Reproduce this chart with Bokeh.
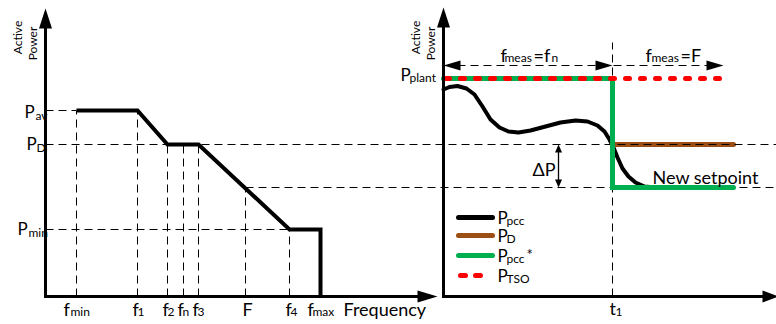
import numpy as np
from bokeh.plotting import figure
from bokeh.models import Range1d
from bokeh.core.properties import value
from bokeh.embed import file_html
from bokeh.resources import INLINE

FONT = "Lato"
BLACK = "#000000"
BROWN = "#9C4F14"
GREEN = "#00B050"
RED = "#FF0000"
DASH = "8 5"

# ---- power levels shared by both panels (height above the time/frequency axis) ----
P_TOP = 288      # tip of the vertical axes
P_PLANT = 218
P_AV = 186
P_D = 152
P_SET = 109      # power reached at f = F (the new setpoint)
P_MIN = 67

# ---- left panel: frequency / active power characteristic ----
F_ORIGIN = 45
F_AXIS_END = 437
freq_main = ["f", "f", "f", "f", "f", "F", "f", "f"]
freq_sub = ["min", "1", "2", "n", "3", "", "4", "max"]
freq_pos = [76, 137, 167, 183, 198, 245, 289, 320]
freq_guide_top = [P_AV, P_AV, P_D, P_D, P_D, P_SET, P_MIN, 0]
f = dict(zip(["fmin", "f1", "f2", "fn", "f3", "F", "f4", "fmax"], freq_pos))

droop_f = [f["fmin"], f["f1"], f["f2"], f["f3"], f["f4"], f["fmax"], f["fmax"]]
droop_p = [P_AV, P_AV, P_D, P_D, P_MIN, P_MIN, 0]

# ---- right panel: active power against time ----
T_ORIGIN = 443
T_AXIS_END = 778
T1 = 169
T_END = 290
T_TSO_END = 285
T_MEAS_END = 280
pcc_t = [0, 6, 14, 23, 31, 39, 47, 56, 65, 75, 87, 102, 117, 132, 144, 154,
         161, 166, 170, 174, 179, 185, 192, 201, 212, 272]
pcc_p = [207, 209.5, 210.5, 208, 202, 190, 177, 169, 165, 164, 166, 170, 174,
         176, 175, 171, 165, 157, 149, 139, 128, 120, 114, 110, 109, 109]

X_MAX = 776
Y_MIN = -28
TXT_DY = 6       # lifts glyph text so its baseline sits where it is placed

p = figure(width=776, height=324, x_range=Range1d(0, X_MAX), y_range=Range1d(Y_MIN, 296),
           output_backend="svg", toolbar_location=None, min_border=0,
           x_axis_location=None, y_axis_location=None)
p.grid.visible = False
p.outline_line_color = None
p.background_fill_color = "white"
p.border_fill_color = "white"


def txt(x, y, s, size, align="left", baseline="alphabetic", angle=0.0, dy=TXT_DY):
    p.text(x=[x], y=[y + dy], text=[s], text_font=value(FONT), text_font_size=f"{size}px",
           text_align=align, text_baseline=baseline, angle=angle, text_color=BLACK)


def head(xt, yt, dx, dy, length, half):
    """Filled triangular arrow head with its tip at (xt, yt) pointing along (dx, dy)."""
    n = np.hypot(dx, dy)
    ux, uy = dx / n, dy / n
    bx, by = xt - ux * length, yt - uy * length
    px, py = -uy * half, ux * half
    p.patch([xt, bx + px, bx - px], [yt, by + py, by - py], color=BLACK, line_width=0)


def dashed(xs, ys, width=1):
    p.line(xs, ys, line_color=BLACK, line_width=width, line_dash=DASH)


# ---------------- guides (dashed) ----------------
for x, top in zip(freq_pos, freq_guide_top):
    if top > 0 and x != f["fmax"]:
        dashed([x, x], [0, top])
dashed([F_ORIGIN, f["fmin"]], [P_AV, P_AV])
dashed([F_ORIGIN, f["f4"]], [P_MIN, P_MIN])
dashed([T_ORIGIN + T1, T_ORIGIN + T1], [0, 254])

# ---------------- right panel curves ----------------
p.line([T_ORIGIN + t for t in pcc_t], pcc_p, line_color=BLACK, line_width=4,
       line_join="round", line_cap="round")
p.line([T_ORIGIN + T1, T_ORIGIN + T_END], [P_D, P_D], line_color=BROWN, line_width=5,
       line_cap="round")

# horizontal guides that run across both panels
dashed([F_ORIGIN, X_MAX], [P_D, P_D])
dashed([f["F"], X_MAX], [P_SET, P_SET])

p.line([T_ORIGIN, T_ORIGIN + T1, T_ORIGIN + T1, T_ORIGIN + T_END],
       [P_PLANT, P_PLANT, P_SET, P_SET], line_color=GREEN, line_width=5,
       line_join="miter", line_cap="round")
p.line([T_ORIGIN + 2, T_ORIGIN + T_TSO_END], [P_PLANT, P_PLANT], line_color=RED,
       line_width=5, line_dash="4 11", line_cap="round")

# ---------------- left panel droop characteristic ----------------
p.line(droop_f, droop_p, line_color=BLACK, line_width=4, line_join="miter")

# ---------------- axes ----------------
for x0 in (F_ORIGIN, T_ORIGIN):
    p.line([x0, x0], [0, P_TOP - 18], line_color=BLACK, line_width=3)
    head(x0, P_TOP + (1 if x0 == T_ORIGIN else 0), 0, 1, 20, 6.5)
p.line([F_ORIGIN - 1.5, F_AXIS_END - 18], [0, 0], line_color=BLACK, line_width=3)
head(F_AXIS_END, 0, 1, 0, 20, 6)
p.line([T_ORIGIN - 1.5, T_AXIS_END - 14], [0, 0], line_color=BLACK, line_width=3)
head(T_AXIS_END, 0, 1, 0, 16, 6)

# measurement windows above the time axis
Y_MEAS = 231
dashed([T_ORIGIN + 14, T_ORIGIN + T_MEAS_END - 12], [Y_MEAS, Y_MEAS])
head(T_ORIGIN, Y_MEAS, -1, 0, 17, 5)
head(T_ORIGIN + T1, Y_MEAS, 1, 0, 17, 5)
head(T_ORIGIN + T_MEAS_END, Y_MEAS, 1, 0, 17, 5)

# delta P arrow
X_DP = 558
p.line([X_DP, X_DP], [P_SET + 6, P_D - 6], line_color=BLACK, line_width=1.3)
head(X_DP, P_D, 0, 1, 8, 3.5)
head(X_DP, P_SET, 0, -1, 8, 3.5)

# ---------------- texts ----------------
HALF_PI = np.pi / 2
for x0 in (F_ORIGIN, T_ORIGIN):
    txt(x0 - 28, 259, "Active", 12, align="center", baseline="middle", angle=HALF_PI, dy=0)
    txt(x0 - 13, 253, "Power", 12, align="center", baseline="middle", angle=HALF_PI, dy=0)

# power level labels on the left axis
txt(24, P_AV - 7, "P", 17)
txt(35, P_AV - 11, "av", 12)
txt(26, P_D - 5, "P", 17)
txt(36, P_D - 9, "D", 12)
txt(17, P_MIN - 5, "P", 17)
txt(28, P_MIN - 9, "min", 12)

# frequency labels under the axis
sub_dx = {"min": 7, "1": 5, "2": 5, "n": 5, "3": 5, "": 0, "4": 5, "max": 5}
main_dx = {"min": 13, "1": 5, "2": 5, "n": 6, "3": 6, "": 3, "4": 4, "max": 13}
for x, m, s in zip(freq_pos, freq_main, freq_sub):
    xm = x - main_dx[s]
    txt(xm, -18, m, 18)
    if s:
        txt(xm + sub_dx[s], -21, s, 12)
txt(343, -18, "Frequency", 18)

# right panel labels
txt(400, P_PLANT - 2, "P", 17)
txt(409, P_PLANT - 5, "plant", 12)
txt(500, 236, "f", 18)
txt(504, 233, "meas", 12)
txt(533, 236, "=f", 18)
txt(551, 233, "n", 12)
txt(645, 236, "f", 18)
txt(651, 233, "meas", 12)
txt(680, 236, "=F", 18)
txt(532, 122, "\u0394P", 18)
txt(652, 114, "New setpoint", 18)
txt(609, -17, "t", 18)
txt(615, -21, "1", 12)

# legend
LEG_X0, LEG_X1 = 458, 492
leg_y = [79, 61, 41, 21]
p.line([LEG_X0, LEG_X1], [leg_y[0]] * 2, line_color=BLACK, line_width=5, line_cap="round")
p.line([LEG_X0, LEG_X1], [leg_y[1]] * 2, line_color=BROWN, line_width=5, line_cap="round")
p.line([LEG_X0, LEG_X1], [leg_y[2]] * 2, line_color=GREEN, line_width=5, line_cap="round")
p.line([LEG_X0 + 2, LEG_X0 + 23], [leg_y[3]] * 2, line_color=RED, line_width=5,
       line_dash="5 10", line_cap="round")
leg_sub = ["pcc", "D", "pcc", "TSO"]
for y, s in zip(leg_y, leg_sub):
    txt(497, y - 6, "P", 17)
    txt(506, y - 9, s, 12)
txt(526, leg_y[2] - 4, "*", 15)

open("out.html", "w").write(file_html(p, INLINE))
